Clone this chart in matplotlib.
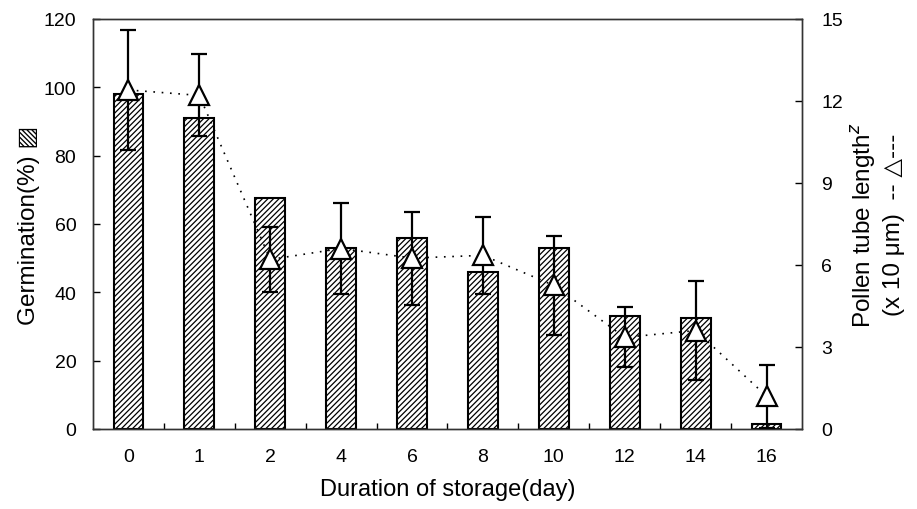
import matplotlib
matplotlib.use("Agg")
import matplotlib.pyplot as plt
import numpy as np

plt.rcParams['font.family'] = ['Liberation Sans', 'DejaVu Sans']
plt.rcParams['hatch.linewidth'] = 0.9

days = ['0', '1', '2', '4', '6', '8', '10', '12', '14', '16']
germination = [98, 91, 67.5, 53, 56, 46, 53, 33, 32.5, 1.5]
tube_length = [12.4, 12.2, 6.2, 6.6, 6.25, 6.35, 5.25, 3.35, 3.6, 1.2]
tube_err = [2.2, 1.5, 1.2, 1.65, 1.7, 1.4, 1.8, 1.1, 1.8, 1.15]

fig = plt.figure(figsize=(9.17, 5.10), dpi=100)
ax = fig.add_axes([0.1014, 0.157, 0.7732, 0.804])
x = np.arange(len(days))

ax.bar(x, germination, width=0.42, facecolor='white', edgecolor='black',
       linewidth=1.5, hatch='//////', zorder=2)
ax.set_xlim(-0.5, len(days) - 0.5)
ax.set_ylim(0, 120)
ax.set_yticks(np.arange(0, 121, 20))
ax.set_xticks(x)
ax.set_xticklabels(days)
ax.set_xticks(np.arange(0.5, len(days) - 1, 1), minor=True)
ax.tick_params(axis='x', which='major', length=0, pad=14, labelsize=14)
ax.tick_params(axis='x', which='minor', direction='in', length=4, width=1)
ax.tick_params(axis='y', direction='in', length=5, width=1, pad=12, labelsize=14)
ax.set_xlabel('Duration of storage(day)', fontsize=17, labelpad=9)
ax.set_ylabel('Germination(%) \u25a8', fontsize=17.5, labelpad=3)
for s in ax.spines.values():
    s.set_linewidth(1.0)
    s.set_color('#333333')

ax2 = ax.twinx()
ax2.set_ylim(0, 15)
ax2.set_yticks(np.arange(0, 16, 3))
ax2.tick_params(axis='y', direction='in', length=5, width=1, pad=14, labelsize=14)
ax2.errorbar(x, tube_length, yerr=tube_err, fmt='none', ecolor='black',
             elinewidth=1.6, capsize=6, capthick=1.6, zorder=3)
ax2.plot(x, tube_length, linestyle=(0, (1, 4)), color='black', linewidth=1.2,
         zorder=3)
ax2.plot(x, tube_length, linestyle='none', marker='^', markersize=14,
         markerfacecolor='white', markeredgecolor='black', markeredgewidth=1.6,
         zorder=4)
ax2.set_ylabel('Pollen tube length$^{z}$\n(x 10 \u03bcm)  -- \u25b3---',
               fontsize=17.5, labelpad=4, linespacing=1.3)
for s in ax2.spines.values():
    s.set_linewidth(1.0)
    s.set_color('#333333')

fig.savefig('out.png', dpi=100)
